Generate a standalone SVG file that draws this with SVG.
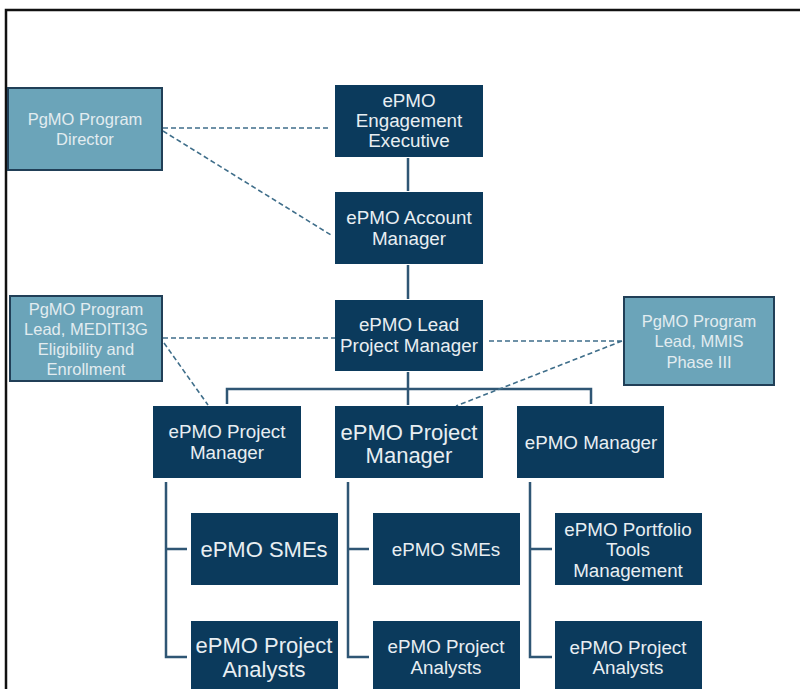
<svg xmlns="http://www.w3.org/2000/svg" width="800" height="689" viewBox="0 0 800 689">
<style>
.dk{fill:#0b3a5c}
.lt{fill:#6ba4b9;stroke:#213f57;stroke-width:2}
text{font-family:"Liberation Sans",Arial,sans-serif;text-anchor:middle;fill:#e8eef2}
.t{font-size:18.8px}
.b{font-size:22px}
.s{font-size:16.5px;fill:#e2ecf0}
.c{fill:none;stroke:#2f5674;stroke-width:2.5}
.d{fill:none;stroke:#3f6e8a;stroke-width:1.6;stroke-dasharray:5 3}
</style>
<rect width="800" height="689" fill="#ffffff"/>
<path d="M6,689 V10 H800" fill="none" stroke="#111" stroke-width="2.5"/>
<g id="connectors">
<path class="c" d="M408,158 V191 M408,265 V299 M408,372 V405 M227,404 V389 H591 V404"/>
<path class="c" d="M166,482 V657 H187 M166,549 H187"/>
<path class="c" d="M348,482 V657 H369 M348,549 H369"/>
<path class="c" d="M530,482 V657 H552 M530,549 H552"/>
<path class="d" d="M163,128 H330 M163,131 L331,235"/>
<path class="d" d="M163,338 H335 M164,343 L208,405"/>
<path class="d" d="M622,341 H486 M622,341 L456,406"/>
</g>
<g id="director"><rect class="lt" x="8" y="88" width="154" height="82"/><text class="s" x="85" y="125">PgMO Program</text><text class="s" x="85" y="145">Director</text></g>
<g id="exec"><rect class="dk" x="335" y="85" width="148" height="72"/><text class="t" x="409" y="107">ePMO</text><text class="t" x="409" y="127">Engagement</text><text class="t" x="409" y="147">Executive</text></g>
<g id="account"><rect class="dk" x="335" y="192" width="148" height="72"/><text class="t" x="409" y="224">ePMO Account</text><text class="t" x="409" y="245">Manager</text></g>
<g id="lead"><rect class="dk" x="335" y="300" width="148" height="71"/><text class="t" x="409" y="331">ePMO Lead</text><text class="t" x="409" y="352">Project Manager</text></g>
<g id="mediti3g"><rect class="lt" x="10" y="296" width="152" height="85"/><text class="s" x="86" y="315">PgMO Program</text><text class="s" x="86" y="335">Lead, MEDITI3G</text><text class="s" x="86" y="355">Eligibility and</text><text class="s" x="86" y="375">Enrollment</text></g>
<g id="mmis"><rect class="lt" x="624" y="297" width="150" height="88"/><text class="s" x="699" y="327">PgMO Program</text><text class="s" x="699" y="347">Lead, MMIS</text><text class="s" x="699" y="368">Phase III</text></g>
<g id="pm-left"><rect class="dk" x="153" y="406" width="148" height="72"/><text class="t" x="227" y="438">ePMO Project</text><text class="t" x="227" y="459">Manager</text></g>
<g id="pm-mid"><rect class="dk" x="335" y="406" width="148" height="72"/><text class="b" x="409" y="440">ePMO Project</text><text class="b" x="409" y="463">Manager</text></g>
<g id="manager"><rect class="dk" x="517" y="406" width="147" height="72"/><text class="t" x="591" y="449">ePMO Manager</text></g>
<g id="smes-left"><rect class="dk" x="191" y="513" width="147" height="72"/><text class="b" x="264" y="557">ePMO SMEs</text></g>
<g id="analysts-left"><rect class="dk" x="191" y="621" width="147" height="72"/><text class="b" x="264" y="653">ePMO Project</text><text class="b" x="264" y="677">Analysts</text></g>
<g id="smes-mid"><rect class="dk" x="373" y="513" width="147" height="72"/><text class="t" x="446" y="556">ePMO SMEs</text></g>
<g id="analysts-mid"><rect class="dk" x="373" y="621" width="147" height="72"/><text class="t" x="446" y="653">ePMO Project</text><text class="t" x="446" y="674">Analysts</text></g>
<g id="portfolio"><rect class="dk" x="555" y="513" width="147" height="72"/><text class="t" x="628" y="536">ePMO Portfolio</text><text class="t" x="628" y="556">Tools</text><text class="t" x="628" y="577">Management</text></g>
<g id="analysts-right"><rect class="dk" x="555" y="621" width="147" height="72"/><text class="t" x="628" y="654">ePMO Project</text><text class="t" x="628" y="674">Analysts</text></g>
</svg>
